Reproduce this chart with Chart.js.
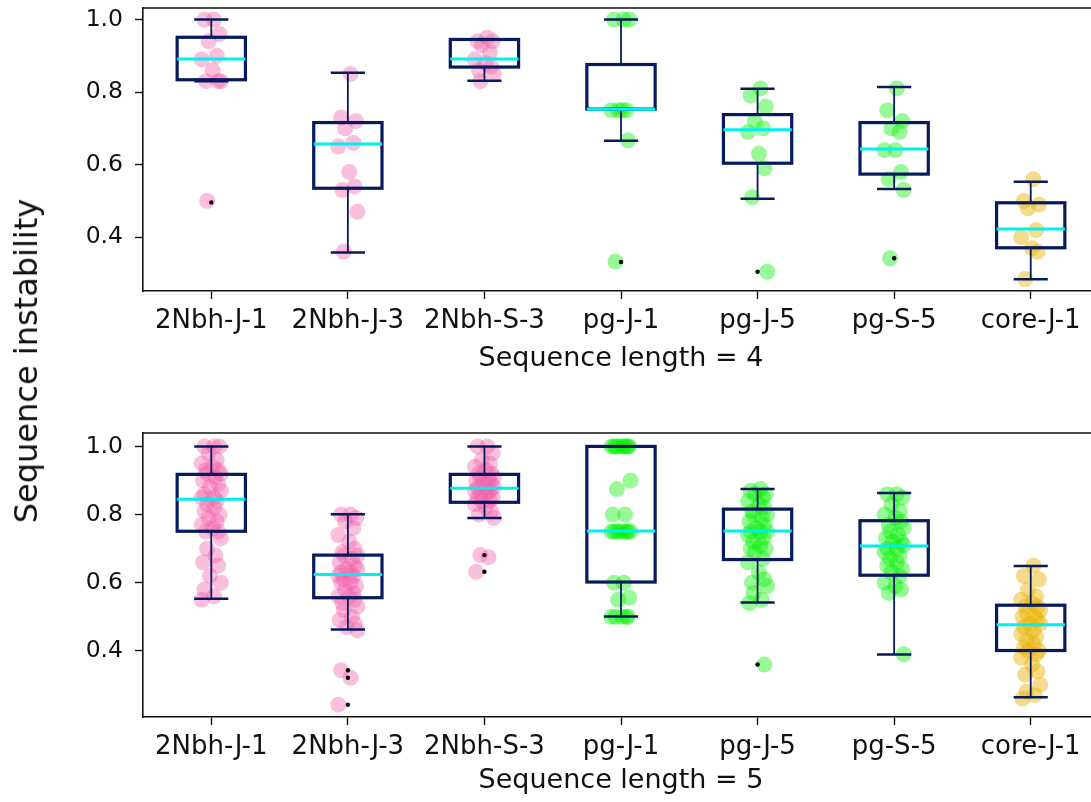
<!DOCTYPE html>
<html>
<head>
<meta charset="utf-8">
<script src="https://cdn.jsdelivr.net/npm/chart.js@4.4.1/dist/chart.umd.min.js"></script>
<style>
  html, body { margin: 0; padding: 0; background: #fff; overflow: hidden; width: 1091px; height: 802px; }
  canvas { position: absolute; left: 0; }
  #chartLen4 { top: 0; }
  #chartLen5 { top: 420px; }
  #ylabel {
    position: absolute; left: 26px; top: 361px;
    transform: translate(-50%, -50%) rotate(-90deg);
    font-family: 'DejaVu Sans'; font-size: 32px; line-height: 1;
    white-space: nowrap; color: #111;
  }
</style>
</head>
<body>
<canvas id="chartLen4" width="1110" height="400"></canvas>
<canvas id="chartLen5" width="1110" height="382"></canvas>
<div id="ylabel">Sequence instability</div>
<script>
const CATEGORIES = ["2Nbh-J-1", "2Nbh-J-3", "2Nbh-S-3", "pg-J-1", "pg-J-5", "pg-S-5", "core-J-1"];
const Y_TICKS = [0.4, 0.6, 0.8, 1.0];

// sequence length = 4 : points
const len4_2NbhJ1 = [1.0, 1.0, 0.96, 0.94, 0.90, 0.89, 0.86, 0.83, 0.83, 0.83, 0.50];
const len4_2NbhJ3 = [0.85, 0.73, 0.72, 0.70, 0.66, 0.65, 0.58, 0.54, 0.53, 0.47, 0.36];
const len4_2NbhS3 = [0.95, 0.94, 0.94, 0.93, 0.91, 0.89, 0.88, 0.87, 0.86, 0.85, 0.83];
const len4_pgJ1 = [1.0, 1.0, 1.0, 0.75, 0.75, 0.75, 0.75, 0.667, 0.333];
const len4_pgJ5 = [0.81, 0.79, 0.76, 0.72, 0.70, 0.69, 0.63, 0.59, 0.51, 0.305];
const len4_pgS5 = [0.81, 0.75, 0.72, 0.70, 0.69, 0.64, 0.64, 0.58, 0.56, 0.53, 0.342];
const len4_coreJ1 = [0.56, 0.50, 0.49, 0.48, 0.42, 0.40, 0.37, 0.36, 0.285];

// sequence length = 4 : box stats
const LEN4_LO  = [0.830, 0.358, 0.831, 0.666, 0.506, 0.533, 0.284];
const LEN4_Q1  = [0.834, 0.535, 0.869, 0.753, 0.604, 0.574, 0.371];
const LEN4_MED = [0.891, 0.657, 0.891, 0.753, 0.696, 0.643, 0.423];
const LEN4_Q3  = [0.951, 0.716, 0.945, 0.876, 0.738, 0.716, 0.495];
const LEN4_HI  = [1.0, 0.853, 0.945, 1.0, 0.809, 0.814, 0.553];
const LEN4_FLIERS = [[0.496], [], [], [0.332], [0.305], [0.342], []];

// sequence length = 5 : points
const len5_2NbhJ1 = [1.0, 1.0, 1.0, 0.98, 0.96, 0.95, 0.94, 0.93, 0.93, 0.92, 0.92, 0.91, 0.90, 0.89, 0.88, 0.87, 0.86, 0.85, 0.85, 0.84,
                     0.83, 0.82, 0.81, 0.80, 0.79, 0.78, 0.77, 0.76, 0.75, 0.75, 0.73, 0.70, 0.68, 0.66, 0.65, 0.62, 0.60, 0.58, 0.56, 0.55];
const len5_2NbhJ3 = [0.80, 0.80, 0.79, 0.78, 0.76, 0.74, 0.72, 0.70, 0.69, 0.68, 0.68, 0.67, 0.66, 0.65, 0.64, 0.64, 0.63, 0.63, 0.62, 0.62,
                     0.61, 0.60, 0.60, 0.59, 0.58, 0.57, 0.56, 0.56, 0.55, 0.54, 0.53, 0.52, 0.50, 0.49, 0.48, 0.47, 0.46, 0.343, 0.321, 0.242];
const len5_2NbhS3 = [1.0, 1.0, 0.98, 0.96, 0.95, 0.94, 0.93, 0.92, 0.92, 0.91, 0.91, 0.90, 0.90, 0.89, 0.89, 0.88, 0.88, 0.88, 0.87, 0.87,
                     0.86, 0.86, 0.85, 0.85, 0.84, 0.84, 0.83, 0.82, 0.81, 0.80, 0.79, 0.681, 0.675, 0.632];
const len5_pgJ1 = [1.0, 1.0, 1.0, 1.0, 1.0, 1.0, 1.0, 1.0, 1.0, 0.90, 0.875, 0.80, 0.80, 0.75, 0.75, 0.75, 0.75, 0.75, 0.75, 0.75, 0.75,
                   0.60, 0.60, 0.556, 0.55, 0.50, 0.50, 0.50, 0.50, 0.50];
const len5_pgJ5 = [0.875, 0.87, 0.86, 0.86, 0.85, 0.84, 0.83, 0.82, 0.81, 0.80, 0.80, 0.79, 0.78, 0.77, 0.76, 0.75, 0.75, 0.75, 0.74, 0.73,
                   0.72, 0.71, 0.70, 0.70, 0.69, 0.67, 0.66, 0.63, 0.61, 0.60, 0.59, 0.57, 0.55, 0.54, 0.36];
const len5_pgS5 = [0.86, 0.86, 0.85, 0.83, 0.81, 0.80, 0.79, 0.78, 0.77, 0.76, 0.75, 0.74, 0.73, 0.72, 0.72, 0.71, 0.70, 0.70, 0.69, 0.68,
                   0.67, 0.66, 0.65, 0.64, 0.63, 0.62, 0.60, 0.59, 0.58, 0.57, 0.39];
const len5_coreJ1 = [0.65, 0.62, 0.61, 0.58, 0.56, 0.55, 0.54, 0.53, 0.53, 0.52, 0.51, 0.50, 0.50, 0.49, 0.48, 0.48, 0.47, 0.46, 0.45, 0.44,
                     0.43, 0.42, 0.41, 0.40, 0.40, 0.39, 0.38, 0.36, 0.34, 0.33, 0.30, 0.28, 0.27, 0.26];

// sequence length = 5 : box stats
const LEN5_LO  = [0.553, 0.463, 0.790, 0.501, 0.542, 0.389, 0.264];
const LEN5_Q1  = [0.751, 0.556, 0.836, 0.602, 0.668, 0.622, 0.401];
const LEN5_MED = [0.845, 0.624, 0.877, 0.752, 0.752, 0.708, 0.477];
const LEN5_Q3  = [0.918, 0.681, 0.918, 1.0, 0.816, 0.782, 0.534];
const LEN5_HI  = [1.0, 0.801, 1.0, 1.0, 0.875, 0.863, 0.649];
const LEN5_FLIERS = [[], [0.343, 0.321, 0.242], [0.681, 0.632], [], [0.36], [], []];

// horizontal spread of the dots around each box (category units)
const JITTER = [0.02, -0.05, 0.06, -0.02, 0.04, -0.07, 0.01, 0.05, -0.04, 0.07, -0.03, 0.03, -0.06, 0.05, -0.01, 0.07, -0.05, 0.02, -0.07, 0.04, -0.03];

const PINK = "rgba(242, 95, 170, 0.40)";
const GREEN = "rgba(0, 240, 0, 0.40)";
const GOLD = "rgba(232, 178, 0, 0.45)";
const CAT_COLORS = [PINK, PINK, PINK, GREEN, GREEN, GREEN, GOLD];
const NAVY = "#061a5e";
const CYAN = "#00f0f0";
const FONT = "'DejaVu Sans', sans-serif";

// draws boxes / whiskers / medians on top of the dots
const boxPlugin = {
  id: "boxes",
  afterDatasetsDraw(chart, args, opts) {
    const { ctx } = chart;
    const x = chart.scales.x, y = chart.scales.y;
    const s = opts.stats;
    ctx.save();
    for (let i = 0; i < CATEGORIES.length; i++) {
      const cx = x.getPixelForValue(i + 1);
      const half = x.getPixelForValue(i + 1.25) - cx;
      const cap = half / 2;
      const yLo = y.getPixelForValue(s.lo[i]);
      const yQ1 = y.getPixelForValue(s.q1[i]);
      const yMed = y.getPixelForValue(s.med[i]);
      const yQ3 = y.getPixelForValue(s.q3[i]);
      const yHi = y.getPixelForValue(s.hi[i]);

      ctx.strokeStyle = NAVY;
      ctx.lineWidth = 1.8;
      ctx.beginPath();
      ctx.moveTo(cx, yQ1); ctx.lineTo(cx, yLo);
      ctx.moveTo(cx, yQ3); ctx.lineTo(cx, yHi);
      ctx.stroke();

      ctx.lineWidth = 2.5;
      ctx.beginPath();
      ctx.moveTo(cx - cap, yLo); ctx.lineTo(cx + cap, yLo);
      ctx.moveTo(cx - cap, yHi); ctx.lineTo(cx + cap, yHi);
      ctx.stroke();

      ctx.lineWidth = 3.2;
      ctx.strokeRect(cx - half, yQ3, half * 2, yQ1 - yQ3);

      ctx.strokeStyle = CYAN;
      ctx.lineWidth = 3;
      ctx.beginPath();
      ctx.moveTo(cx - half, yMed); ctx.lineTo(cx + half, yMed);
      ctx.stroke();
    }
    ctx.restore();
  }
};

// top spine
const frameTop = {
  id: "frameTop",
  afterDraw(chart) {
    const { ctx, chartArea } = chart;
    ctx.save();
    ctx.strokeStyle = "#111";
    ctx.lineWidth = 1.6;
    ctx.beginPath();
    ctx.moveTo(chartArea.left, chartArea.top);
    ctx.lineTo(chartArea.right, chartArea.top);
    ctx.stroke();
    ctx.restore();
  }
};

function makeChart(canvasId, groups, stats, fliers, title, padTop, xAxisHeight, yMin, yMax, titleBottom) {
  const datasets = groups.map((vals, i) => ({
    data: vals.map((v, k) => ({ x: i + 1 + JITTER[k % JITTER.length], y: v })),
    backgroundColor: CAT_COLORS[i],
    borderWidth: 0,
    pointRadius: 8,
    pointHoverRadius: 8,
    order: 1
  }));
  const flierPts = [];
  fliers.forEach((arr, i) => arr.forEach(v => flierPts.push({ x: i + 1, y: v })));
  datasets.push({
    data: flierPts,
    backgroundColor: "#000",
    borderWidth: 0,
    pointRadius: 2.2,
    order: -1
  });

  return new Chart(document.getElementById(canvasId), {
    type: "scatter",
    data: { datasets: datasets },
    options: {
      responsive: false,
      animation: false,
      events: [],
      layout: { padding: { top: padTop, left: 0, right: 11, bottom: 0 } },
      plugins: {
        legend: { display: false },
        tooltip: { enabled: false },
        boxes: { stats: stats }
      },
      scales: {
        x: {
          type: "linear",
          min: 0.5,
          max: 7.5,
          afterBuildTicks: (scale) => { scale.ticks = CATEGORIES.map((c, i) => ({ value: i + 1 })); },
          afterFit: (scale) => {
            scale.height = xAxisHeight;
            scale.paddingLeft = 0; scale.paddingRight = 0;
          },
          ticks: {
            callback: (v) => CATEGORIES[v - 1],
            autoSkip: false,
            maxRotation: 0,
            color: "#111",
            padding: 7,
            font: { family: FONT, size: 26 }
          },
          grid: { drawOnChartArea: false, drawTicks: true, tickLength: 8, color: "#111", tickWidth: 1.4 },
          border: { display: true, color: "#111", width: 1.6 },
          title: {
            display: true,
            text: title,
            color: "#111",
            font: { family: FONT, size: 27 },
            padding: { top: 0, bottom: titleBottom }
          }
        },
        y: {
          min: yMin,
          max: yMax,
          afterBuildTicks: (scale) => { scale.ticks = Y_TICKS.map(v => ({ value: v })); },
          afterFit: (scale) => {
            scale.width = 143;
            scale.paddingTop = 0; scale.paddingBottom = 0;
          },
          ticks: {
            callback: (v) => v.toFixed(1),
            color: "#111",
            padding: 12,
            font: { family: FONT, size: 23.5 }
          },
          grid: { drawOnChartArea: false, drawTicks: true, tickLength: 8, color: "#111", tickWidth: 1.4 },
          border: { display: true, color: "#111", width: 1.6 }
        }
      }
    },
    plugins: [boxPlugin, frameTop]
  });
}

makeChart("chartLen4",
  [len4_2NbhJ1, len4_2NbhJ3, len4_2NbhS3, len4_pgJ1, len4_pgJ5, len4_pgS5, len4_coreJ1],
  { lo: LEN4_LO, q1: LEN4_Q1, med: LEN4_MED, q3: LEN4_Q3, hi: LEN4_HI },
  LEN4_FLIERS, "Sequence length = 4", 8, 109, 0.2519, 1.0317, 25);

makeChart("chartLen5",
  [len5_2NbhJ1, len5_2NbhJ3, len5_2NbhS3, len5_pgJ1, len5_pgJ5, len5_pgS5, len5_coreJ1],
  { lo: LEN5_LO, q1: LEN5_Q1, med: LEN5_MED, q3: LEN5_Q3, hi: LEN5_HI },
  LEN5_FLIERS, "Sequence length = 5", 13, 85, 0.2059, 1.0394, 5);
</script>
</body>
</html>
